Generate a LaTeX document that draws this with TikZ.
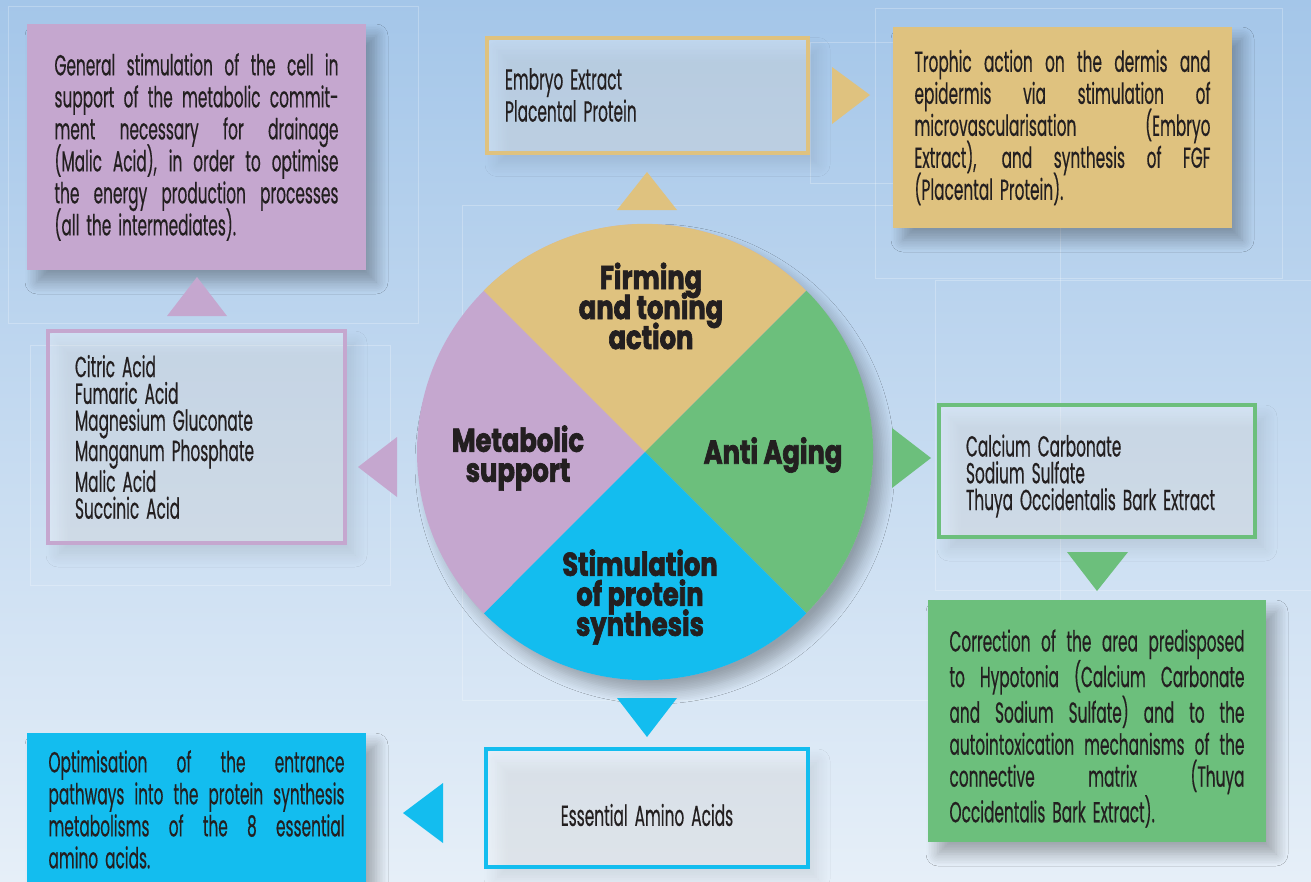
\documentclass[tikz,border=0pt]{standalone}
\usepackage{fontspec}
\setmainfont{Poppins}[FakeStretch=0.53, FakeBold=0.4, WordSpace={1.7,1.5,1.5}]
\newfontfamily\piefont{Poppins}[FakeStretch=0.78, BoldFeatures={FakeBold=2}]
\usetikzlibrary{shadows.blur}
\definecolor{purp}{HTML}{C5A7CF}
\definecolor{tanc}{HTML}{DFC27F}
\definecolor{grn}{HTML}{6CBF7C}
\definecolor{blu}{HTML}{13BDEF}
\definecolor{bgtop}{HTML}{A4C6E9}
\definecolor{bgbot}{HTML}{E6EFF8}
\definecolor{ink}{HTML}{231F20}
\lineskiplimit=-20pt
\begin{document}
\begin{tikzpicture}[x=1pt, y=-1pt,
      every node/.style={inner sep=0pt, text=ink,
        execute at begin node={\setlength{\lineskiplimit}{-30pt}}},
      softshadow/.style={blur shadow={shadow xshift=10pt, shadow yshift=-12pt,
        shadow blur radius=12pt, shadow blur steps=8, shadow opacity=30}},
      fillbox/.style={fill=#1, softshadow, align=justify,
        font=\fontsize{29}{32}\selectfont},
      listbox/.style={draw=#1, line width=4pt, fill=white, fill opacity=0.3,
        text opacity=1, softshadow, align=flush left,
        font=\fontsize{29}{26.8}\selectfont},
      pielabel/.style={align=flush center,
        font=\piefont\bfseries\fontsize{33}{30}\selectfont},
      grid/.style={draw=white, opacity=0.25, line width=0.8pt}]

  \useasboundingbox (0,0) rectangle (1311,881);
  \shade[top color=bgtop, bottom color=bgbot] (0,0) rectangle (1311,881);
  \draw[grid] (8,6) rectangle (418,323);
  \draw[grid] (875,8) rectangle (1282,278);
  \draw[grid] (30,345) rectangle (390,585);
  \draw[grid] (462,205) rectangle (1060,700);
  \draw[grid] (810,42) rectangle (1035,183);
  \draw[grid] (935,280) rectangle (1311,590);

  % central wheel
  \node[circle, minimum size=456pt, fill=purp, softshadow] (pie) at (645,452) {};
  \fill[tanc] (pie.center) -- (pie.135) arc[start angle=135, end angle=45, radius=228pt] -- cycle;
  \fill[grn] (pie.center) -- (pie.45) arc[start angle=45, end angle=-45, radius=228pt] -- cycle;
  \fill[blu] (pie.center) -- (pie.-45) arc[start angle=-45, end angle=-135, radius=228pt] -- cycle;
  \node[pielabel] (firming) at (651,306) {Firming\\and toning\\action};
  \node[pielabel] (aging) at (773,455) {Anti Aging};
  \node[pielabel] (metab) at (518,458) {Metabolic\\support};
  \node[pielabel] (protein) at (640,597) {Stimulation\\of protein\\synthesis};

  % ingredient frames
  \node[listbox=purp, minimum width=297pt, minimum height=212pt, inner xsep=27pt]
    (acids) at (196.5,437) {\parbox{243pt}{\raggedright
      Citric Acid\\Fumaric Acid\\Magnesium Gluconate\\Manganum Phosphate\\Malic Acid\\Succinic Acid}};
  \node[listbox=tanc, minimum width=321pt, minimum height=115pt, text width=285pt,
    font=\fontsize{29}{32}\selectfont]
    (embryo) at (647.5,95) {Embryo Extract\\Placental Protein};
  \node[listbox=grn, minimum width=316pt, minimum height=132pt, inner xsep=27pt]
    (calcium) at (1097,471) {\raisebox{0pt}[\dimexpr\height+10pt\relax][\depth]{\parbox{262pt}{\raggedright
      Calcium Carbonate\\Sodium Sulfate\\Thuya Occidentalis Bark Extract}}};
  \node[listbox=blu, minimum width=322pt, minimum height=118pt, text width=280pt, align=flush center]
    (amino) at (647,808) {\raisebox{0pt}[\dimexpr\height+14pt\relax][\depth]{Essential Amino Acids}};

  % action boxes
  \node[fillbox=purp, minimum height=246pt, text width=284pt, inner xsep=27.5pt]
    (metabtext) at (196.5,147) {General stimulation of the cell in\linebreak
      support of the metabolic commit-\linebreak ment necessary for drainage\linebreak
      (Malic Acid), in order to optimise\linebreak the energy production processes\linebreak
      (all the intermediates).};
  \node[fillbox=tanc, minimum height=201pt, text width=296pt, inner xsep=21.5pt]
    (firmtext) at (1062.5,127.5) {Trophic action on the dermis and\linebreak
      epidermis via stimulation of\linebreak microvascularisation (Embryo\linebreak
      Extract), and synthesis of FGF\linebreak (Placental Protein).};
  \node[fillbox=grn, minimum width=338pt, minimum height=242pt, inner xsep=21.5pt]
    (agetext) at (1097,721) {\raisebox{0pt}[\dimexpr\height+15pt\relax][\depth]{\parbox{295pt}{Correction of the area predisposed\linebreak
      to Hypotonia (Calcium Carbonate\linebreak and Sodium Sulfate) and to the\linebreak
      autointoxication mechanisms of the\linebreak connective matrix (Thuya\linebreak
      Occidentalis Bark Extract).}}};
  \node[fillbox=blu, anchor=north, text width=296pt, inner xsep=21.5pt, inner ysep=17pt]
    (proteintext) at (196.5,733) {Optimisation of the entrance\linebreak
      pathways into the protein synthesis\linebreak metabolisms of the 8 essential\linebreak
      amino acids.\par\vspace{20pt}};

  % pointers
  \fill[purp] (167,316) -- (227,316) -- (197,277) -- cycle;
  \fill[purp] (397,437) -- (397,497) -- (358,467) -- cycle;
  \fill[tanc] (617,210) -- (677,210) -- (647,172) -- cycle;
  \fill[tanc] (832,67) -- (832,124) -- (870,95) -- cycle;
  \fill[grn] (892,428) -- (892,488) -- (931,458) -- cycle;
  \fill[grn] (1067,552) -- (1128,552) -- (1097,591) -- cycle;
  \fill[blu] (617,698) -- (677,698) -- (647,737) -- cycle;
  \fill[blu] (443,783) -- (443,843) -- (403,813) -- cycle;
\end{tikzpicture}
\end{document}
